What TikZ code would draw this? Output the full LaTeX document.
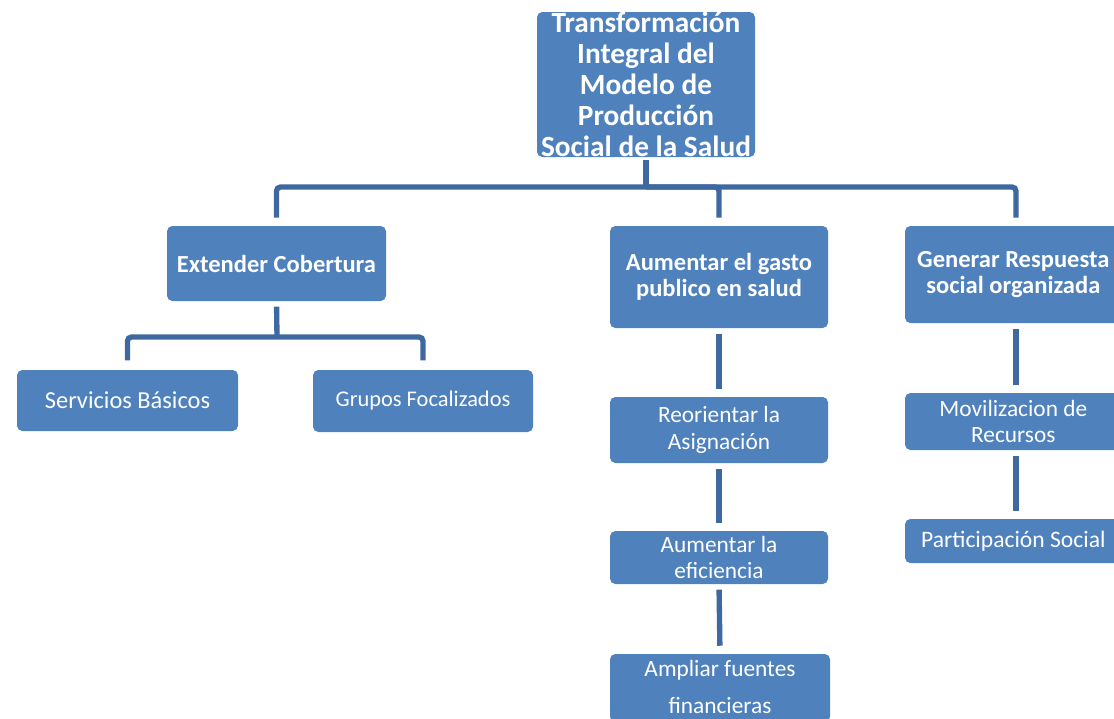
\documentclass[tikz,border=0pt]{standalone}
\usepackage{fontspec}
\setmainfont{Carlito}
\usetikzlibrary{fit}
\definecolor{boxblue}{RGB}{79,129,189}
\definecolor{linkblue}{RGB}{62,104,160}

\begin{document}
\begin{tikzpicture}[x=0.75pt,y=-0.75pt,
  box/.style={fill=boxblue, rounded corners=4pt, inner sep=0pt},
  txt/.style={text=white, align=center, inner sep=0pt},
  headfont/.style={font=\fontsize{22}{23.25}\selectfont\bfseries},
  boldfont/.style={font=\fontsize{18.4}{19.5}\selectfont\bfseries},
  plainfont/.style={font=\fontsize{17.5}{20}\selectfont},
  link/.style={draw=linkblue, line width=4pt, rounded corners=3pt}]
\useasboundingbox (0,0) rectangle (1114,718);
\clip (0,0) rectangle (1114,718);

% boxes
\node[box, fit={(537,12) (755,157)}] (top) {};
\node[box, fit={(167,226) (386,301)}] (ext) {};
\node[box, fit={(610,226) (828,328)}] (gasto) {};
\node[box, fit={(905,226) (1127,323)}] (gen) {};
\node[box, fit={(17,370) (238,431)}] (serv) {};
\node[box, fit={(313,370) (533,432)}] (grup) {};
\node[box, fit={(610,397) (828,463)}] (reo) {};
\node[box, fit={(610,531) (828,584)}] (efi) {};
\node[box, fit={(610,654) (830,722)}] (amp) {};
\node[box, fit={(905,393) (1127,450)}] (mov) {};
\node[box, fit={(905,519) (1127,563)}] (par) {};

% texts
\node[txt, headfont] (topT) at (top.center)
  {Transformación\\Integral del\\Modelo de\\Producción\\Social de la Salud};
\node[txt, boldfont] (extT) at (ext.center) {Extender Cobertura};
\node[txt, boldfont] (gastoT) at (gasto.center) {Aumentar el gasto\\publico en salud};
\node[txt, boldfont] (genT) at ([xshift=-2pt]gen.center) {Generar Respuesta\\social organizada};
\node[txt, font=\fontsize{18.3}{20}\selectfont] (servT) at (serv.center) {Servicios Básicos};
\node[txt, font=\fontsize{16.8}{20}\selectfont] (grupT) at (grup.center) {Grupos Focalizados};
\node[txt, plainfont] (reoT) at (reo.center) {Reorientar la\\Asignación};
\node[txt, plainfont] (efiT) at (efi.center) {Aumentar la\\eficiencia};
\node[txt, font=\fontsize{17.5}{27.75}\selectfont] (ampT) at ([yshift=1pt]amp.center) {Ampliar fuentes\\financieras};
\node[txt, plainfont] (movT) at ([xshift=-2pt]mov.center) {Movilizacion de\\Recursos};
\node[txt, font=\fontsize{17.7}{20}\selectfont] (parT) at ([xshift=-2pt]par.center) {Participación Social};

% main bus
\coordinate (bus) at (646,187);
\draw[link, shorten <=2pt] (top.south) -- (bus);
\draw[link, shorten >=6pt] (bus) -| (ext.north);
\draw[link, shorten >=6pt] (bus) -| (gasto.north);
\draw[link, shorten >=6pt] (bus) -| (gen.north);

% Extender Cobertura branch
\coordinate (extbus) at (277,337);
\draw[link, shorten <=4pt] (ext.south) -- (extbus);
\draw[link, shorten >=7pt] (extbus) -| (serv.north);
\draw[link, shorten >=7pt] (extbus) -| (grup.north);

% chains
\draw[link, shorten <=4pt, shorten >=6pt] (gasto.south) -- (reo.north);
\draw[link, shorten <=4pt, shorten >=6pt] (reo.south) -- (efi.north);
\draw[link, shorten <=4pt, shorten >=6pt] (efi.south) -- (amp.north);
\draw[link, shorten <=4pt, shorten >=6pt] (gen.south) -- (mov.north);
\draw[link, shorten <=4pt, shorten >=6pt] (mov.south) -- (par.north);
\end{tikzpicture}
\end{document}
